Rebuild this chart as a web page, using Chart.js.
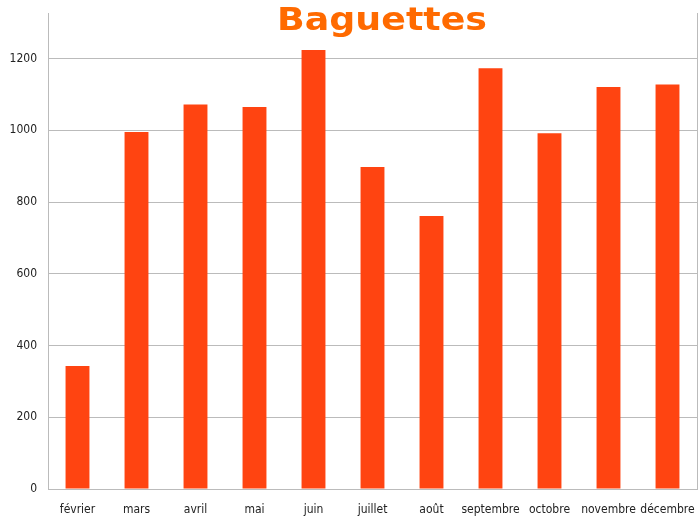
<!DOCTYPE html>
<html>
<head>
<meta charset="utf-8">
<script src="https://cdn.jsdelivr.net/npm/chart.js@4/dist/chart.umd.min.js"></script>
<style>
html,body{margin:0;padding:0;background:#fff;}
#wrap{width:699px;height:521px;position:relative;}
</style>
</head>
<body>
<div id="wrap"><canvas id="c" width="699" height="521"></canvas></div>
<script>
const titleText = "Baguettes";
const months = ["février","mars","avril","mai","juin","juillet","août","septembre","octobre","novembre","décembre"];
const baguettes = [343, 995, 1072, 1065, 1224, 898, 761, 1173, 992, 1121, 1128];
const yTicks = [0, 200, 400, 600, 800, 1000, 1200];

const tickFont = {family: "'DejaVu Sans Condensed', 'Liberation Sans', sans-serif", size: 12};

const extras = {
  id: 'extras',
  afterDraw(chart) {
    const ctx = chart.ctx, a = chart.chartArea;
    ctx.save();
    ctx.strokeStyle = '#bbbbbb';
    ctx.lineWidth = 1;
    ctx.beginPath();
    ctx.moveTo(a.right + 0.5, a.top);
    ctx.lineTo(a.right + 0.5, a.bottom);
    ctx.stroke();
    ctx.font = "bold 32px 'DejaVu Sans', Verdana, sans-serif";
    ctx.fillStyle = '#ff6a00';
    ctx.textAlign = 'center';
    ctx.textBaseline = 'alphabetic';
    const w = ctx.measureText(titleText).width;
    const sx = 210 / w;
    ctx.translate(382, 30);
    ctx.scale(sx, 1);
    ctx.fillText(titleText, 0, 0);
    ctx.restore();
  }
};

new Chart(document.getElementById('c'), {
  type: 'bar',
  data: {
    labels: months,
    datasets: [{
      data: baguettes,
      backgroundColor: '#ff4411',
      borderWidth: 0,
      categoryPercentage: 1,
      barPercentage: 0.405
    }]
  },
  options: {
    responsive: false,
    animation: false,
    devicePixelRatio: 1,
    layout: {padding: {top: 13, right: 2, left: 0, bottom: 0}},
    plugins: {legend: {display: false}, title: {display: false}, tooltip: {enabled: false}},
    scales: {
      x: {
        grid: {display: false, drawTicks: false},
        border: {display: true, color: '#bbbbbb'},
        ticks: {color: '#222', font: tickFont, padding: 14, maxRotation: 0, autoSkip: false},
        afterFit(s) { s.height = 32; s.paddingLeft = 0; s.paddingRight = 0; }
      },
      y: {
        min: 0,
        max: 1327,
        grid: {color: '#bbbbbb', drawTicks: false},
        border: {display: true, color: '#bbbbbb'},
        ticks: {color: '#222', font: tickFont, padding: 11, callback: v => String(v)},
        afterBuildTicks(s) { s.ticks = yTicks.map(v => ({value: v})); },
        afterFit(s) { s.width = 48; s.paddingTop = 0; s.paddingBottom = 0; }
      }
    }
  },
  plugins: [extras]
});
</script>
</body>
</html>
